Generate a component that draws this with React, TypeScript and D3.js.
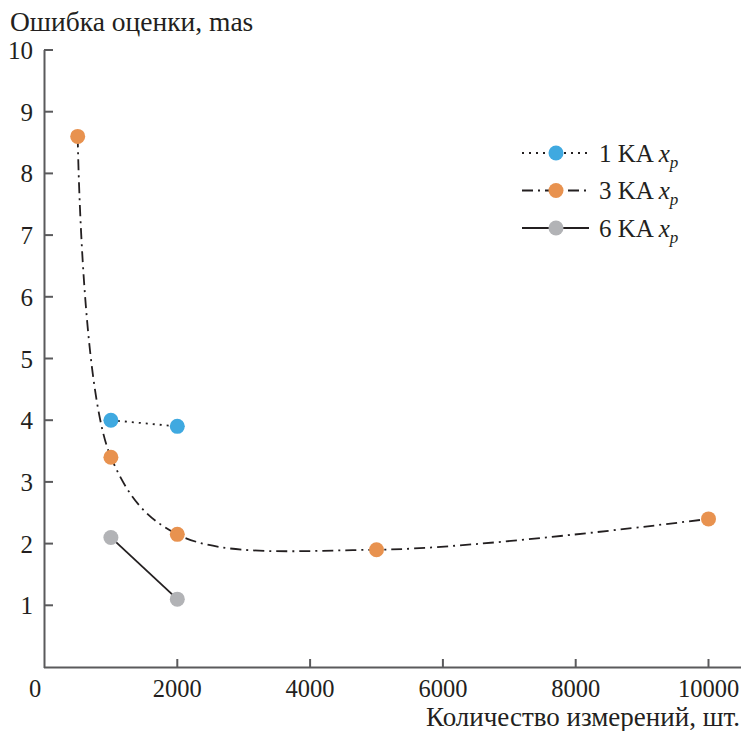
import React from "react";
import * as d3 from "d3";

const xTicks = [2000, 4000, 6000, 8000, 10000];
const yTicks = [1, 2, 3, 4, 5, 6, 7, 8, 9, 10];
const s1x = [1000, 2000];
const s1y = [4.0, 3.9];
const s3x = [500, 1000, 2000, 5000, 10000];
const s3y = [8.6, 3.4, 2.15, 1.9, 2.4];
const s6x = [1000, 2000];
const s6y = [2.1, 1.1];
const seriesNames = ["1 KA", "3 KA", "6 KA"];
const colors = ["#3fa9e0", "#e8924f", "#b2b3b6"];

const W = 741, H = 731;
const fs = { fontFamily: '"Liberation Serif"' };

export default function App() {
  const x = d3.scaleLinear().domain([0, 10000]).range([44.5, 708.5]);
  const y = d3.scaleLinear().domain([0, 10]).range([667, 50]);
  const series = [
    { xs: s1x, ys: s1y, dash: "2,5", curve: d3.curveLinear },
    { xs: s3x, ys: s3y, dash: "11,5,2,5", curve: d3.curveCatmullRom.alpha(0.5) },
    { xs: s6x, ys: s6y, dash: "", curve: d3.curveLinear },
  ];
  const axisColor = "#5a5a5c";
  const ink = "#231f20";
  return (
    <svg width={W} height={H} style={{ position: "absolute", left: 0, top: 0, display: "block" }}>
      <rect width={W} height={H} fill="#fff" />
      <text x={10} y={31} fontSize={27.5} fill={ink} style={fs}>Ошибка оценки, mas</text>
      <line x1={44.5} y1={50} x2={44.5} y2={668} stroke={axisColor} strokeWidth={2} />
      <line x1={44} y1={667.5} x2={741} y2={667.5} stroke={axisColor} strokeWidth={2} />
      {yTicks.map((t) => (
        <g key={t}>
          <line x1={44} x2={53} y1={y(t)} y2={y(t)} stroke={axisColor} strokeWidth={2} />
          <text x={33} y={y(t) + 9} textAnchor="end" fontSize={25} fill={ink} style={fs}>{t}</text>
        </g>
      ))}
      <text x={35} y={696.5} textAnchor="middle" fontSize={24.5} fill={ink} style={fs}>0</text>
      {xTicks.map((t) => (
        <g key={t}>
          <line x1={x(t)} x2={x(t)} y1={667} y2={659} stroke={axisColor} strokeWidth={2} />
          <text x={x(t)} y={696.5} textAnchor="middle" fontSize={24.5} fill={ink} style={fs}>{t}</text>
        </g>
      ))}
      <text x={740} y={725.5} textAnchor="end" fontSize={27} fill={ink} style={fs}>Количество измерений, шт.</text>
      {series.map((s, i) => {
        const pts: [number, number][] = s.xs.map((v, j) => [x(v), y(s.ys[j])]);
        const path = d3.line().curve(s.curve)(pts) || "";
        return (
          <g key={i}>
            <path d={path} fill="none" stroke={ink} strokeWidth={1.8} strokeDasharray={s.dash || undefined} />
            {pts.map((p, j) => (
              <circle key={j} cx={p[0]} cy={p[1]} r={7.5} fill={colors[i]} />
            ))}
          </g>
        );
      })}
      {series.map((s, i) => {
        const ly = 153 + i * 37.5;
        return (
          <g key={"l" + i}>
            <line x1={522} x2={589} y1={ly} y2={ly} stroke={ink} strokeWidth={1.8} strokeDasharray={s.dash || undefined} />
            <circle cx={556} cy={ly} r={7.5} fill={colors[i]} />
            <text x={599} y={ly + 8.5} fontSize={25} fill={ink} style={fs}>
              {seriesNames[i] + " "}
              <tspan fontStyle="italic">x</tspan>
              <tspan fontStyle="italic" fontSize={17} dy={6}>p</tspan>
            </text>
          </g>
        );
      })}
    </svg>
  );
}
